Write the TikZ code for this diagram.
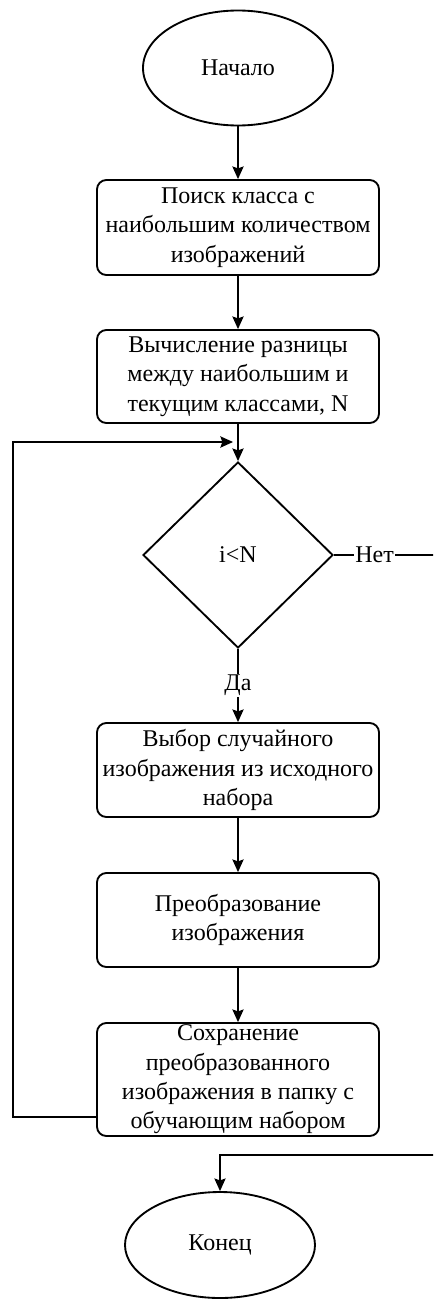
\documentclass[tikz,border=0pt]{standalone}
\usepackage{fontspec}
\setmainfont{Liberation Serif}
\usetikzlibrary{shapes.geometric,arrows.meta}
\begin{document}
\begin{tikzpicture}[x=0.75pt,y=-0.75pt,
  txt/.style={font=\fontsize{18}{22}\selectfont},
  termbox/.style={ellipse,draw,line width=1.4pt,minimum width=142.5pt,inner sep=0pt,txt},
  procbox/.style={rectangle,draw,line width=1.4pt,rounded corners=7pt,minimum width=211.5pt,minimum height=70.5pt,inner sep=0pt,align=center,txt},
  decbox/.style={diamond,draw,line width=1.4pt,minimum width=142.5pt,minimum height=139.5pt,inner sep=0pt,txt},
  conn/.style={line width=0.9pt},
  arr/.style={conn,-{Stealth[length=9.5pt,width=8.5pt,inset=1.5pt]}},
  lbl/.style={fill=white,inner sep=1pt,txt}]
\useasboundingbox (0,0) rectangle (433,1299);
\clip (0,0) rectangle (433,1299);
\node[termbox,minimum height=86.25pt] (start) at (238,68) {Начало};
\node[procbox,minimum height=71.25pt] (b1) at (238,227.5) {Поиск класса с\\наибольшим количеством\\изображений};
\node[procbox,minimum height=69.75pt] (b2) at (238,376.5) {Вычисление разницы\\между наибольшим и\\текущим классами, N};
\node[decbox] (d) at (238,555) {i<N};
\node[procbox] (b3) at (238,770) {Выбор случайного\\изображения из исходного\\набора};
\node[procbox] (b4) at (238,920) {Преобразование\\изображения};
\node[procbox,minimum height=84.75pt] (b5) at (238,1079.5) {Сохранение\\преобразованного\\изображения в папку с\\обучающим набором};
\node[termbox,minimum height=79.5pt] (e) at (220,1245) {Конец};
\coordinate (lp1) at (13,1117);
\coordinate (lp2) at (13,442);
\coordinate (lp3) at (233,442);
\coordinate (r1) at (460,555);
\coordinate (r2) at (460,1155);
\coordinate (r3) at (220,1155);
\draw[arr] (start) -- (b1);
\draw[arr] (b1) -- (b2);
\draw[arr] (b2) -- (d);
\draw[arr] (d) -- node[lbl,pos=0.5]{Да} (b3);
\draw[arr] (b3) -- (b4);
\draw[arr] (b4) -- (b5);
\draw[arr] (b5.west |- lp1) -- (lp1) -- (lp2) -- (lp3);
\draw[arr] (d.east) -- node[lbl,pos=0.323]{Нет} (r1) -- (r2) -- (r3) -- (e);
\end{tikzpicture}
\end{document}
